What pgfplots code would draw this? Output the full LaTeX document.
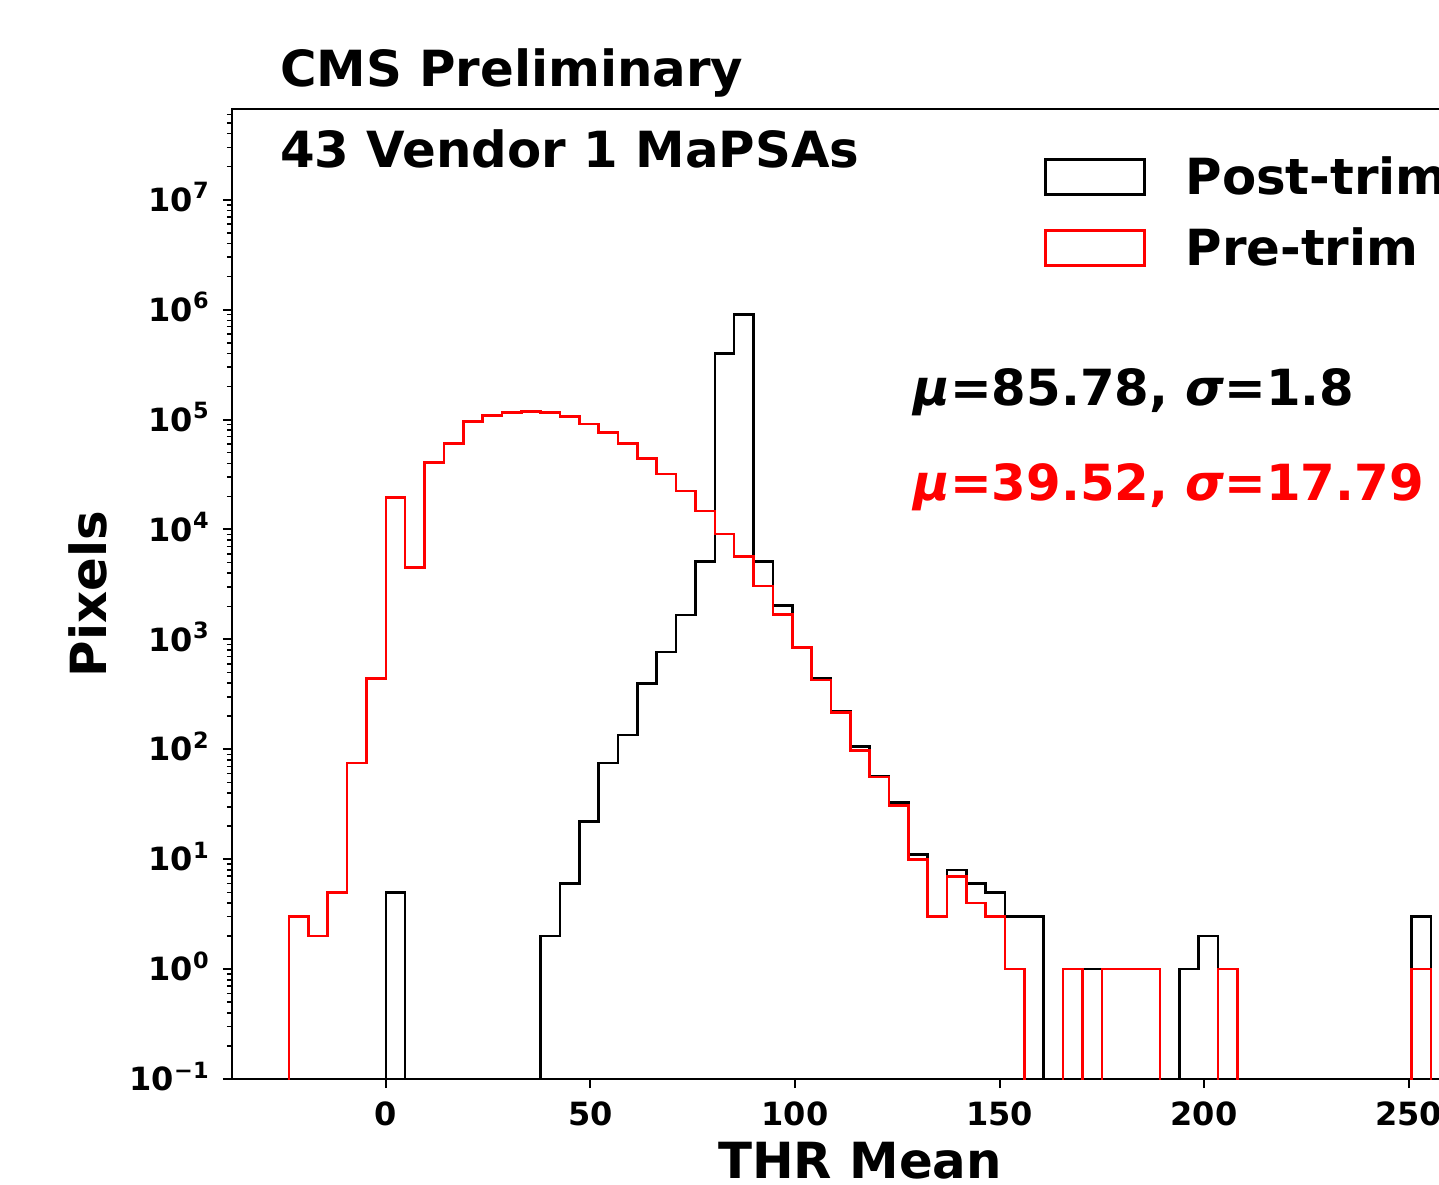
\documentclass[border=0pt]{standalone}
\usepackage{fontspec}
\setmainfont{DejaVu Sans}
\usepackage{pgfplots}
\usepackage{pgfplotstable}
\pgfplotsset{compat=1.18}
\newcommand\tenpow[1]{10\textsuperscript{#1}}
\pgfplotstableread{
x red black
-23.65 0 0
-23.65 3 0
-18.92 2 0
-14.19 5 0
-9.46 75 0
-4.73 440 0
0 19500 5
4.73 4500 0
9.46 40800 0
14.19 60800 0
18.92 95700 0
23.65 109000 0
28.38 115500 0
33.11 119000 0
37.84 115500 2
42.57 107000 6
47.30 91000 22
52.03 76600 75
56.76 60400 135
61.49 44500 395
66.22 32000 770
70.95 22400 1670
75.68 14700 5090
80.41 9100 401000
85.14 5660 908000
89.87 3060 5090
94.60 1690 2030
99.33 841 850
104.06 427 440
108.79 217 220
113.52 97 106
118.25 56 57
122.98 31 33
127.71 10 11
132.44 3 3
137.17 7 8
141.90 4 6
146.63 3 5
151.36 1 3
156.09 0 3
160.82 0 0
165.55 1 0
170.28 0 1
175.01 1 0
179.74 1 0
184.47 1 0
189.20 0 0
193.93 0 1
198.66 0 2
203.39 1 0
208.12 0 0
212.85 0 0
217.58 0 0
222.31 0 0
227.04 0 0
231.77 0 0
236.50 0 0
241.23 0 0
245.96 0 0
250.69 1 3
255.42 0 0
}\histdata
\newcommand\bigfont{\fontsize{24.9}{24.9}\selectfont\bfseries}
\begin{document}
\begin{tikzpicture}
\begin{axis}[
  at={(0,0)}, anchor=south west,
  scale only axis, width=628pt, height=485pt,
  xmin=-37.6, xmax=269.4,
  ymode=log, ymin=0.1, ymax=6.7e7,
  clip mode=individual,
  axis line style={line width=1pt},
  tick align=outside, tick pos=left,
  major tick length=4.5pt, minor tick length=2.5pt,
  major tick style={line width=1pt, black},
  minor tick style={line width=0.75pt, black},
  xtick={0,50,100,150,200,250},
  xticklabels={0,50,100,150,200,250},
  ytick={1e-1,1,10,100,1000,1e4,1e5,1e6,1e7},
  yticklabels={\tenpow{−1},\tenpow{0},\tenpow{1},\tenpow{2},\tenpow{3},\tenpow{4},\tenpow{5},\tenpow{6},\tenpow{7}},
  minor ytick={2e-1,3e-1,4e-1,5e-1,6e-1,7e-1,8e-1,9e-1,
    2,3,4,5,6,7,8,9,
    20,30,40,50,60,70,80,90,
    200,300,400,500,600,700,800,900,
    2e3,3e3,4e3,5e3,6e3,7e3,8e3,9e3,
    2e4,3e4,4e4,5e4,6e4,7e4,8e4,9e4,
    2e5,3e5,4e5,5e5,6e5,7e5,8e5,9e5,
    2e6,3e6,4e6,5e6,6e6,7e6,8e6,9e6,
    2e7,3e7,4e7,5e7,6e7},
  ticklabel style={font=\fontsize{16}{16}\selectfont\bfseries, inner sep=0pt},
  xticklabel style={anchor=base, yshift=-18.5pt},
  yticklabel style={anchor=base east, xshift=-6.5pt, yshift=-5.83pt},
  xlabel={THR Mean}, ylabel={Pixels},
  label style={font=\bigfont},
  xlabel style={at={(axis description cs:0.5,-0.1021)}, anchor=base},
  ylabel style={at={(axis description cs:-0.1146,0.5)}, anchor=center},
  legend style={draw=none, fill=none, at={(0.6465,0.9513)}, anchor=north west,
    inner sep=0pt, row sep=15.1pt, column sep=20pt,
    font=\bigfont, nodes={inner sep=0pt}},
  legend cell align=left,
  legend image code/.code={\draw[#1, line width=1.1pt] (0pt,-8.75pt) rectangle (49.5pt,8.75pt);},
]
\addplot[black, line width=1.3pt, const plot mark left, no marks, line join=miter]
  table[x=x, y expr={max(\thisrow{black},0.001)}] {\histdata};
\addlegendentry{Post-trim}
\addplot[red, line width=1.3pt, const plot mark left, no marks, line join=miter]
  table[x=x, y expr={max(\thisrow{red},0.001)}] {\histdata};
\addlegendentry{Pre-trim}
\node[anchor=base west, inner sep=0pt, font=\bigfont] at (rel axis cs:0.0380,1.0227) {CMS Preliminary};
\node[anchor=base west, inner sep=0pt, font=\bigfont] at (rel axis cs:0.0380,0.9392) {43 Vendor 1 MaPSAs};
\node[anchor=base west, inner sep=0pt, font=\bigfont] at (rel axis cs:0.5422,0.6948) {\textit{μ}=85.78, \textit{σ}=1.8};
\node[anchor=base west, inner sep=0pt, font=\bigfont, text=red] at (rel axis cs:0.5422,0.5969) {\textit{μ}=39.52, \textit{σ}=17.79};
\end{axis}
\pgfresetboundingbox
\path[use as bounding box] (-116pt,-52.5pt) rectangle (603.5pt,539.5pt);
\end{tikzpicture}
\end{document}
